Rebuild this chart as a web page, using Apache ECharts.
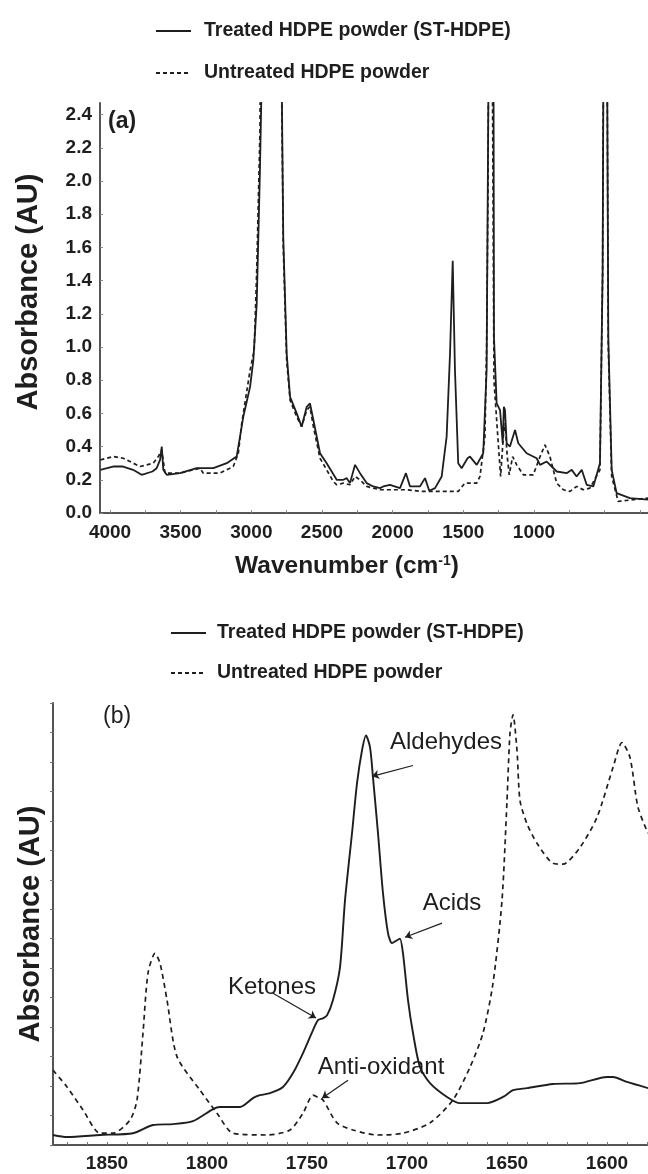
<!DOCTYPE html>
<html>
<head>
<meta charset="utf-8">
<script src="https://cdn.jsdelivr.net/npm/echarts@6/dist/echarts.min.js"></script>
<style>
html,body{margin:0;padding:0;background:#fff;}
#chart{width:648px;height:1174px;}
</style>
</head>
<body>
<div id="chart"></div>
<script>
// ---------- DATA ----------
const seriesNames = ['Treated HDPE powder (ST-HDPE)', 'Untreated HDPE powder'];

// Panel (a): [wavenumber cm-1, absorbance AU]
const treatedA = [[4068,0.26],[4021,0.27],[3979,0.28],[3908,0.28],[3837,0.26],[3776,0.23],[3700,0.25],[3670,0.27],[3646,0.32],[3634,0.40],[3623,0.26],[3599,0.23],[3505,0.24],[3387,0.27],[3269,0.27],[3174,0.30],[3104,0.34],[3080,0.46],[3057,0.58],[3009,0.76],[2986,0.92],[2962,1.26],[2939,2.07],[2927,2.6],[2915,3.5],[2800,3.5],[2785,2.6],[2774,1.66],[2750,0.96],[2726,0.70],[2679,0.60],[2644,0.52],[2608,0.64],[2585,0.66],[2561,0.56],[2514,0.36],[2467,0.30],[2396,0.20],[2349,0.20],[2325,0.21],[2302,0.18],[2266,0.29],[2231,0.24],[2184,0.18],[2137,0.16],[2090,0.15],[2066,0.16],[2019,0.17],[1948,0.15],[1906,0.24],[1877,0.16],[1807,0.16],[1771,0.21],[1741,0.134],[1700,0.15],[1653,0.22],[1618,0.46],[1594,0.96],[1575,1.52],[1559,0.86],[1536,0.30],[1512,0.27],[1470,0.33],[1453,0.34],[1405,0.29],[1359,0.36],[1335,0.86],[1322,2.6],[1316,3.5],[1292,3.5],[1286,2.6],[1283,1.06],[1264,0.66],[1240,0.62],[1221,0.42],[1213,0.64],[1205,0.62],[1193,0.42],[1170,0.40],[1134,0.50],[1111,0.42],[1052,0.36],[981,0.33],[957,0.29],[910,0.31],[839,0.25],[769,0.24],[733,0.26],[698,0.22],[662,0.26],[627,0.17],[580,0.16],[533,0.30],[514,1.46],[505,3.5],[486,3.5],[474,1.06],[450,0.26],[415,0.12],[321,0.09],[193,0.08]];
const untreatedA = [[4068,0.32],[3977,0.34],[3906,0.33],[3788,0.28],[3694,0.30],[3658,0.34],[3634,0.38],[3611,0.24],[3505,0.24],[3363,0.27],[3340,0.24],[3222,0.24],[3128,0.28],[3092,0.36],[3068,0.54],[3009,0.86],[2980,0.98],[2962,1.46],[2939,2.3],[2930,3.5],[2800,3.5],[2785,2.5],[2774,1.6],[2750,0.92],[2726,0.68],[2679,0.58],[2644,0.52],[2608,0.62],[2585,0.64],[2561,0.52],[2514,0.33],[2467,0.26],[2420,0.19],[2396,0.17],[2349,0.18],[2302,0.17],[2266,0.22],[2231,0.20],[2184,0.16],[2137,0.15],[2090,0.14],[2000,0.14],[1900,0.14],[1800,0.13],[1741,0.13],[1640,0.13],[1536,0.13],[1489,0.18],[1405,0.18],[1382,0.22],[1347,0.46],[1335,1.0],[1325,2.0],[1318,3.5],[1300,3.5],[1290,2.0],[1283,0.8],[1264,0.56],[1236,0.22],[1217,0.46],[1205,0.54],[1189,0.34],[1175,0.23],[1151,0.34],[1122,0.29],[1075,0.23],[1005,0.23],[957,0.34],[922,0.41],[887,0.34],[839,0.18],[792,0.14],[745,0.13],[698,0.16],[651,0.14],[604,0.15],[533,0.26],[514,1.46],[505,3.5],[486,3.5],[474,1.0],[450,0.22],[404,0.07],[193,0.09]];

// Panel (b): [wavenumber cm-1, absorbance (arbitrary units)]
const treatedB = [[1877,0.34],[1870,0.27],[1853.5,0.34],[1837,0.4],[1827,0.68],[1817,0.71],[1807,0.81],[1797,1.22],[1793.5,1.29],[1783.5,1.29],[1777,1.59],[1773.5,1.69],[1768.5,1.76],[1762,1.97],[1757,2.44],[1752,3.12],[1747,3.9],[1744.5,4.24],[1742,4.3],[1740,4.4],[1737,4.92],[1733.5,6.03],[1731,8.3],[1727.5,10.58],[1725,12.27],[1722.5,13.39],[1720.5,13.9],[1718.5,13.5],[1717,12.47],[1714.5,10.58],[1712,8.54],[1709.5,7.19],[1707.5,6.85],[1705,6.95],[1703.5,7.0],[1702,6.5],[1699.5,4.92],[1697,3.8],[1693.5,2.64],[1688.5,2.1],[1680,1.63],[1673.5,1.42],[1660,1.42],[1652,1.63],[1647,1.86],[1640,1.93],[1627,2.07],[1613.5,2.1],[1600,2.31],[1597,2.31],[1590,2.14],[1579.5,1.93]];
const untreatedB = [[1877,2.54],[1870,1.97],[1862,1.19],[1853.5,0.4],[1847,0.4],[1838.5,0.85],[1835,1.53],[1832,3.8],[1829.5,5.83],[1826,6.5],[1823.5,6.17],[1820,4.92],[1815,3.0],[1803.5,1.86],[1795,1.08],[1787,0.4],[1770,0.34],[1758.5,0.51],[1752,1.08],[1747,1.69],[1744,1.6],[1742,1.53],[1735,0.75],[1727,0.51],[1715,0.34],[1702,0.4],[1688.5,0.75],[1677,1.53],[1668.5,2.64],[1662,3.8],[1657,5.49],[1652.5,8.3],[1650,11.69],[1648.5,13.97],[1647,14.6],[1645,13.39],[1643.5,11.69],[1640,10.9],[1635,10.24],[1627,9.56],[1622,9.53],[1613.5,10.1],[1605,11.12],[1597,12.81],[1592.5,13.66],[1588.5,13.15],[1584.5,11.46],[1579.5,10.58]];

// Tick labels
const xLabelsA = [4000, 3500, 3000, 2500, 2000, 1500, 1000];
const yLabelsA = [0, 0.2, 0.4, 0.6, 0.8, 1.0, 1.2, 1.4, 1.6, 1.8, 2.0, 2.2, 2.4];
const xLabelsB = [1850, 1800, 1750, 1700, 1650, 1600];

// Annotations (panel b): text, text position, arrow start, arrow end
const annoNames = ['Aldehydes', 'Acids', 'Ketones', 'Anti-oxidant'];
const annoText = [[1680.5,13.66],[1677.5,8.2],[1767.5,5.36],[1713,2.64]];
const annoFrom = [[1697,12.88],[1682.5,7.53],[1767,5.15],[1729.5,2.2]];
const annoTo = [[1717.5,12.51],[1701,7.05],[1745.5,4.31],[1742.5,1.59]];

// ---------- CHART ----------
const FONT = '"Liberation Sans", Arial, Helvetica, sans-serif';
const INK = '#1e1e1e';
const AXIS = '#555';

function range(a, b, step) { const r = []; for (let v = a; v <= b + 1e-9; v += step) r.push(+v.toFixed(3)); return r; }

const chart = echarts.init(document.getElementById('chart'), null, {renderer: 'canvas'});

const boldLabel = {fontFamily: FONT, fontWeight: 'bold', fontSize: 19, color: INK, formatter: v => String(v)};
const legendBase = {orient: 'vertical', itemWidth: 35, itemHeight: 12, selectedMode: false, data: seriesNames,
  itemStyle: {color: 'rgba(0,0,0,0)', borderWidth: 0, opacity: 0}};

const option = {
  backgroundColor: '#fff',
  animation: false,
  textStyle: {fontFamily: FONT},
  legend: [
    Object.assign({left: 150, top: 16, itemGap: 22,
     textStyle: {fontFamily: FONT, fontWeight: 'bold', fontSize: 19.5, color: INK, padding: [0,0,0,8]}}, legendBase),
    Object.assign({left: 165, top: 618, itemGap: 20,
     textStyle: {fontFamily: FONT, fontWeight: 'bold', fontSize: 19.5, color: INK, padding: [0,0,0,6]}}, legendBase)
  ],
  grid: [
    {left: 100, right: 0, top: 103, bottom: 661, outerBoundsMode: 'none', containLabel: false},
    {left: 53, right: 0, top: 703, bottom: 29, outerBoundsMode: 'none', containLabel: false}
  ],
  xAxis: [
    {gridIndex: 0, type: 'value', inverse: true, min: 193, max: 4071,
     axisLine: {lineStyle: {color: AXIS, width: 2}},
     axisTick: {show: true, inside: true, length: 3, lineStyle: {color: '#888'}, customValues: range(250, 4000, 250)},
     axisLabel: Object.assign({margin: 10, customValues: xLabelsA}, boldLabel),
     splitLine: {show: false},
     name: 'Wavenumber (cm{sup|-1})', nameLocation: 'middle', nameGap: 41,
     nameTextStyle: {fontFamily: FONT, fontWeight: 'bold', fontSize: 24.5, color: INK, padding: [0, 54, 0, 0],
       rich: {sup: {fontFamily: FONT, fontWeight: 'bold', fontSize: 14, color: INK, verticalAlign: 'top', padding: [0,0,10,0]}}}},
    {gridIndex: 1, type: 'value', inverse: true, min: 1579.5, max: 1877,
     axisLine: {lineStyle: {color: AXIS, width: 2}},
     axisTick: {show: true, inside: true, length: 3, lineStyle: {color: '#777'}, customValues: range(1580, 1870, 10)},
     axisLabel: Object.assign({margin: 9, customValues: xLabelsB}, boldLabel),
     splitLine: {show: false}}
  ],
  yAxis: [
    {gridIndex: 0, type: 'value', min: 0, max: 2.47,
     axisLine: {show: true, lineStyle: {color: AXIS, width: 2}},
     axisTick: {show: true, inside: true, length: 3, lineStyle: {color: '#888'}, customValues: yLabelsA},
     axisLabel: Object.assign({}, boldLabel, {margin: 8, customValues: yLabelsA, formatter: v => v.toFixed(1)}),
     splitLine: {show: false},
     name: 'Absorbance (AU)', nameLocation: 'middle', nameGap: 57,
     nameTextStyle: {fontFamily: FONT, fontWeight: 'bold', fontSize: 29, color: INK, padding: [0, 0, 0, 32]}},
    {gridIndex: 1, type: 'value', min: 0, max: 15, interval: 1,
     axisLine: {show: true, lineStyle: {color: AXIS, width: 2}},
     axisTick: {show: true, inside: false, length: 3, lineStyle: {color: '#777'}},
     axisLabel: {show: false},
     splitLine: {show: false},
     name: 'Absorbance (AU)', nameLocation: 'middle', nameGap: 8,
     nameTextStyle: {fontFamily: FONT, fontWeight: 'bold', fontSize: 29, color: INK}}
  ],
  graphic: [
    {type: 'text', left: 108, top: 110, style: {text: '(a)', fontFamily: FONT, fontWeight: 'bold', fontSize: 23, fill: INK}},
    {type: 'text', left: 103, top: 705, style: {text: '(b)', fontFamily: FONT, fontWeight: 'normal', fontSize: 23, fill: INK}}
  ],
  series: [
    {name: seriesNames[0], type: 'line', xAxisIndex: 0, yAxisIndex: 0, data: treatedA, symbol: 'none', showSymbol: false,
     lineStyle: {color: INK, width: 1.8, type: 'solid'}, itemStyle: {color: INK}, clip: true},
    {name: seriesNames[1], type: 'line', xAxisIndex: 0, yAxisIndex: 0, data: untreatedA, symbol: 'none', showSymbol: false,
     lineStyle: {color: INK, width: 1.7, type: [4, 3]}, itemStyle: {color: INK}, clip: true},
    {name: seriesNames[0], type: 'line', xAxisIndex: 1, yAxisIndex: 1, data: treatedB, symbol: 'none', showSymbol: false, smooth: 0.25,
     lineStyle: {color: INK, width: 1.9, type: 'solid'}, itemStyle: {color: INK}, clip: true,
     markPoint: {silent: true, symbol: 'circle', symbolSize: 1, itemStyle: {color: 'rgba(0,0,0,0)'},
       label: {show: true, position: 'inside', fontFamily: FONT, fontSize: 24, color: INK},
       data: annoNames.map((n, i) => ({name: n, coord: annoText[i], value: n, label: {formatter: n}}))},
     markLine: {silent: true, symbol: ['none', 'arrow'], symbolSize: 7, animation: false,
       lineStyle: {color: INK, width: 1.2, type: 'solid'}, label: {show: false},
       data: annoNames.map((n, i) => [{coord: annoFrom[i]}, {coord: annoTo[i]}])}},
    {name: seriesNames[1], type: 'line', xAxisIndex: 1, yAxisIndex: 1, data: untreatedB, symbol: 'none', showSymbol: false, smooth: 0.25,
     lineStyle: {color: INK, width: 1.7, type: [5, 4]}, itemStyle: {color: INK}, clip: true}
  ]
};
chart.setOption(option);
</script>
</body>
</html>
